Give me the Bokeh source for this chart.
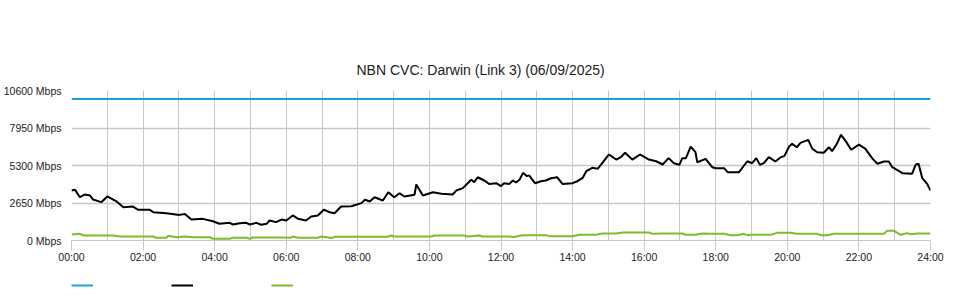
from bokeh.plotting import figure
from bokeh.layouts import column
from bokeh.models import Range1d, FixedTicker, PrintfTickFormatter, Legend, LegendItem
from bokeh.core.properties import value
from bokeh.embed import file_html
from bokeh.resources import INLINE

title_text = "NBN CVC: Darwin (Link 3) (06/09/2025)"

x_tick_labels = ["00:00", "02:00", "04:00", "06:00", "08:00", "10:00", "12:00",
                 "14:00", "16:00", "18:00", "20:00", "22:00", "24:00"]
y_ticks = [0, 2650, 5300, 7950, 10600]

# Capacity (blue)
capacity_times = ["00:00", "24:00"]
capacity_mbps = [10000, 10000]

# Traffic (black)
traffic_times = [
    "00:00", "00:06", "00:14", "00:22", "00:31", "00:36", "00:50", "01:00", "01:10", "01:15",
    "01:27", "01:43", "01:52", "02:11", "02:17", "02:39", "03:01", "03:10", "03:21", "03:40",
    "03:57", "04:08", "04:25", "04:31", "04:42", "04:53", "04:59", "05:10", "05:18", "05:27",
    "05:32", "05:43", "05:52", "06:00", "06:11", "06:20", "06:33", "06:42", "06:53", "07:03",
    "07:13", "07:21", "07:32", "07:49", "08:06", "08:12", "08:20", "08:28", "08:42", "08:51",
    "09:01", "09:10", "09:18", "09:35", "09:38", "09:49", "10:06", "10:20", "10:39", "10:45",
    "10:56", "11:10", "11:15", "11:21", "11:32", "11:40", "11:52", "12:00", "12:05", "12:14",
    "12:20", "12:25", "12:31", "12:37", "12:43", "12:47", "12:57", "13:07", "13:15", "13:24",
    "13:34", "13:43", "14:00", "14:08", "14:17", "14:23", "14:33", "14:42", "14:50", "15:01",
    "15:13", "15:21", "15:28", "15:40", "15:53", "16:08", "16:20", "16:31", "16:41", "16:50",
    "16:59", "17:04", "17:10", "17:18", "17:26", "17:29", "17:43", "17:54", "18:00", "18:14",
    "18:20", "18:39", "18:53", "19:01", "19:08", "19:14", "19:21", "19:29", "19:40", "19:49",
    "19:55", "20:03", "20:08", "20:16", "20:22", "20:35", "20:42", "20:50", "21:01", "21:10",
    "21:15", "21:23", "21:30", "21:39", "21:47", "22:00", "22:11", "22:22", "22:31", "22:42",
    "22:50", "22:56", "23:13", "23:29", "23:35", "23:40", "23:46", "23:55", "24:00"]
traffic_mbps = [
    3530, 3580, 3060, 3250, 3180, 2900, 2710, 3110, 2880, 2780,
    2350, 2400, 2170, 2170, 2000, 1930, 1810, 1880, 1480, 1530,
    1360, 1180, 1250, 1130, 1220, 1250, 1130, 1250, 1110, 1180,
    1410, 1300, 1480, 1410, 1770, 1530, 1410, 1700, 1770, 2170,
    2000, 1930, 2400, 2420, 2640, 2880, 2760, 3060, 2830, 3410,
    3060, 3340, 3110, 3230, 3960, 3180, 3410, 3300, 3250, 3530,
    3700, 4290, 4120, 4470, 4240, 4000, 4050, 3840, 4050, 4000,
    4240, 4100, 4290, 4780, 4550, 4600, 4050, 4190, 4240, 4400,
    4470, 4000, 4050, 4190, 4430, 4900, 5140, 5070, 5490, 6080,
    5720, 5890, 6200, 5720, 6080, 5720, 5600, 5370, 5820, 5460,
    5350, 5820, 5820, 6640, 6240, 5530, 5770, 5180, 5110, 5110,
    4830, 4830, 5600, 5460, 5820, 5350, 5480, 5890, 5580, 5890,
    5960, 6640, 6830, 6590, 6900, 7110, 6480, 6240, 6200, 6590,
    6310, 6830, 7470, 6950, 6410, 6780, 6480, 5820, 5420, 5580,
    5580, 5180, 4760, 4710, 5350, 5420, 4430, 3960, 3530]

# Second series (green)
green_times = [
    "00:00", "00:14", "00:20", "01:10", "01:21", "02:17", "02:22", "02:39", "02:42", "02:56",
    "03:10", "03:24", "03:52", "03:57", "04:25", "04:31", "04:53", "04:59", "05:04", "05:52",
    "06:08", "06:11", "06:20", "06:53", "06:59", "07:16", "07:21", "08:50", "08:56", "09:00",
    "10:03", "10:08", "10:58", "11:04", "11:24", "11:28", "12:14", "12:22", "12:36", "13:16",
    "13:21", "14:00", "14:11", "14:39", "14:50", "15:13", "15:24", "16:08", "16:14", "16:31",
    "17:04", "17:10", "17:26", "17:38", "17:52", "18:14", "18:25", "18:36", "18:47", "18:53",
    "18:59", "19:32", "19:43", "20:05", "20:17", "20:50", "20:56", "21:07", "21:18", "22:42",
    "22:47", "22:59", "23:10", "23:21", "23:26", "23:38", "24:00"]
green_mbps = [
    424, 470, 353, 353, 283, 283, 190, 190, 330, 235,
    283, 235, 235, 118, 118, 190, 190, 118, 212, 212,
    190, 283, 190, 190, 283, 175, 260, 260, 353, 283,
    283, 353, 353, 283, 353, 283, 283, 250, 377, 377,
    306, 306, 400, 400, 495, 495, 565, 565, 470, 495,
    495, 400, 400, 495, 470, 470, 377, 377, 470, 377,
    400, 400, 541, 541, 470, 470, 377, 377, 470, 470,
    683, 683, 400, 520, 450, 490, 490]

series_colors = {"capacity": "#1fa0dd", "traffic": "#000000", "green": "#7cbd2f"}
series_data = {"capacity": (capacity_times, capacity_mbps),
               "traffic": (traffic_times, traffic_mbps),
               "green": (green_times, green_mbps)}


def hrs(t):
    h, m = t.split(":")
    return int(h) + int(m) / 60.0


FONT = "Liberation Sans"
GRID = "#c8c8c8"

p = figure(width=960, height=270, output_backend="svg", toolbar_location=None,
           x_range=Range1d(0, 24), y_range=Range1d(0, 10600),
           min_border_left=70, min_border_right=30, min_border_top=90,
           min_border_bottom=30, title=title_text)
p.background_fill_color = "white"
p.border_fill_color = "white"
p.outline_line_color = None

p.title.align = "left"
p.title.offset = 285
p.title.standoff = 25
p.title.text_font = FONT
p.title.text_font_size = "14px"
p.title.text_font_style = "normal"
p.title.text_color = "#222222"

# axes
x_tick_pos = [hrs(t) for t in x_tick_labels]
p.xaxis.ticker = FixedTicker(ticks=x_tick_pos)
p.xaxis.major_label_overrides = {tp: lab for tp, lab in zip(x_tick_pos, x_tick_labels)}
p.xaxis.major_tick_out = 10
p.xaxis.major_tick_in = 0
p.xaxis.minor_tick_line_color = None
p.xaxis.major_tick_line_color = GRID
p.xaxis.axis_line_color = GRID
p.xaxis.major_label_standoff = 0
p.xaxis.major_label_text_font = FONT
p.xaxis.major_label_text_font_size = "10.5px"
p.xaxis.major_label_text_color = "#222222"

p.yaxis.ticker = FixedTicker(ticks=y_ticks)
p.yaxis.formatter = PrintfTickFormatter(format="%d Mbps")
p.yaxis.major_tick_line_color = None
p.yaxis.minor_tick_line_color = None
p.yaxis.axis_line_color = None
p.yaxis.major_tick_out = 0
p.yaxis.major_label_standoff = 10
p.yaxis.major_label_text_font = FONT
p.yaxis.major_label_text_font_size = "10.5px"
p.yaxis.major_label_text_color = "#222222"

p.xgrid.ticker = FixedTicker(ticks=list(range(0, 25)))
p.xgrid.grid_line_color = GRID
p.ygrid.grid_line_color = GRID
p.ygrid.grid_line_width = 1.5

for name in ["capacity", "green", "traffic"]:
    t, v = series_data[name]
    p.line([hrs(s) for s in t], v, line_width=2, line_color=series_colors[name])

# legend strip (label-less keys, as in the original); its renderers hold the
# same series but the strip's y-range keeps them out of view
lg = figure(width=960, height=30, output_backend="svg", toolbar_location=None,
            x_range=Range1d(0, 24), y_range=Range1d(-2, -1),
            min_border=0, min_border_left=0, min_border_right=0,
            min_border_top=0, min_border_bottom=0)
lg.axis.visible = False
lg.grid.visible = False
lg.outline_line_color = None
lg.background_fill_color = "white"
lg.border_fill_color = "white"
keys = []
for name in ["capacity", "traffic", "green"]:
    t, v = series_data[name]
    r = lg.line([hrs(s) for s in t], v, line_width=2, line_color=series_colors[name])
    keys.append(LegendItem(label=value(" "), renderers=[r]))
legend = Legend(items=keys, orientation="horizontal", location=(0, 5),
                glyph_width=22, glyph_height=20, label_height=20, label_width=60,
                label_standoff=0, spacing=18, margin=0, padding=0,
                border_line_color=None, background_fill_alpha=0,
                label_text_font_size="11px")
lg.add_layout(legend)

layout = column(p, lg, spacing=0)
open("out.html", "w").write(file_html(layout, INLINE))
